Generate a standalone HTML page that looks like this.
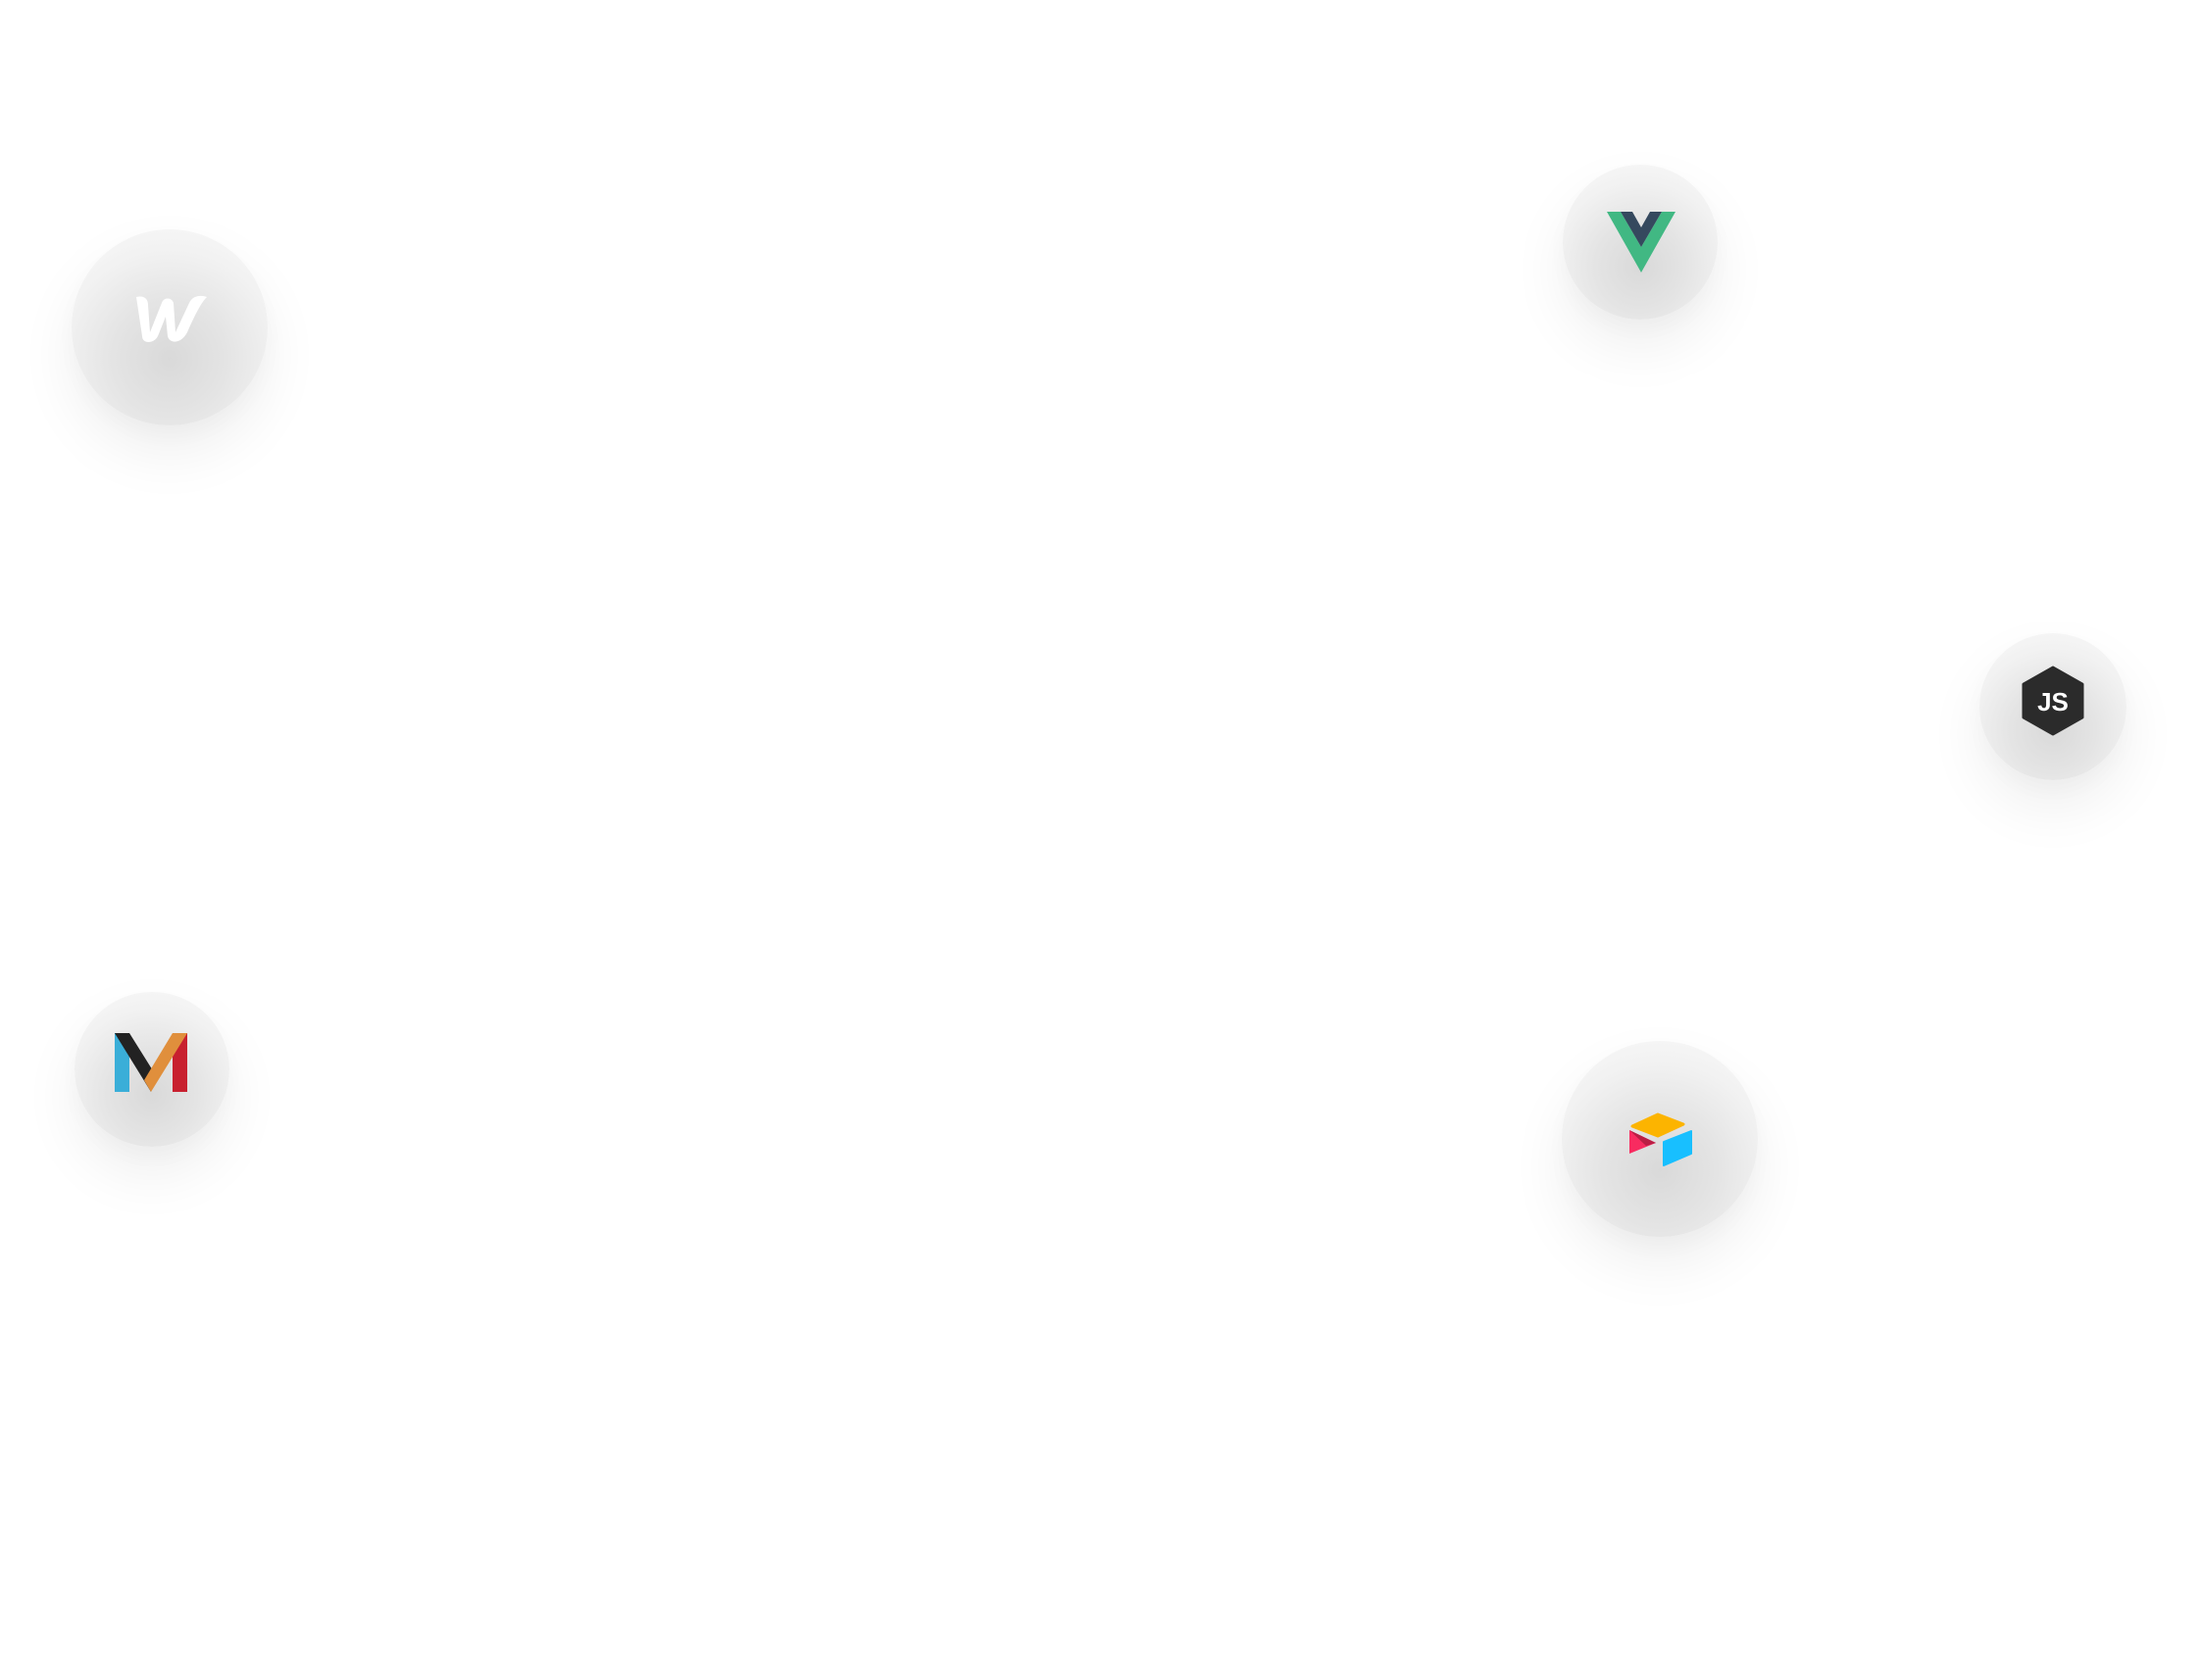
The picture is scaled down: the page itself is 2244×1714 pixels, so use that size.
<!DOCTYPE html>
<html><head><meta charset="utf-8"><style>
html,body{margin:0;padding:0;background:#fff;width:2244px;height:1714px;overflow:hidden;position:relative;font-family:"Liberation Sans",sans-serif}
.c{position:absolute;border-radius:50%;background:radial-gradient(circle at 50% 66%,#d9d9d9 0%,#e4e4e4 35%,#f1f1f1 65%,#fbfbfb 100%);box-shadow:0 28px 60px rgba(0,0,0,0.065),0 10px 22px rgba(0,0,0,0.025)}
.c svg{position:absolute}
</style></head><body>
<div class="c" style="left:73px;top:234px;width:200px;height:200px">
<svg style="left:66px;top:67px" width="72" height="50" viewBox="0 0 72 50"><path d="M0 2 C8 0 12 4 12 10 L14 38 L26 8 C28 2 36 2 38 8 L40 38 L54 8 C58 0 66 0 72 2 C66 8 60 20 52 38 C46 50 34 50 32 42 L30 22 L22 42 C18 50 6 50 6 42 Z" fill="#fff"/></svg>
</div>
<div class="c" style="left:1594px;top:168px;width:158px;height:158px">
<svg style="left:45px;top:48px" width="70" height="62" viewBox="0 0 70 62"><path d="M0 0 H14 L35 36 L56 0 H70 L35 62 Z" fill="#41b883"/><path d="M14 0 H26 L35 16 L44 0 H56 L35 36 Z" fill="#35495e"/></svg>
</div>
<div class="c" style="left:2019px;top:646px;width:150px;height:150px">
<svg style="left:42px;top:33px" width="66" height="72" viewBox="0 0 66 72"><path d="M33 2 L63 19 L63 53 L33 70 L3 53 L3 19 Z" fill="#2b2b2b" stroke="#2b2b2b" stroke-width="3" stroke-linejoin="round"/><text x="33" y="46" text-anchor="middle" font-family="Liberation Sans" font-size="26" fill="#fff" font-weight="bold">JS</text></svg>
</div>
<div class="c" style="left:76px;top:1012px;width:158px;height:158px">
<svg style="left:41px;top:42px" width="74" height="60" viewBox="0 0 74 60"><rect x="0" y="0" width="15" height="60" fill="#3aaed8"/><path d="M0 0 H15 L40 40 L37 60 Z" fill="#222"/><path d="M59 0 H74 V60 H59 Z" fill="#c8202f"/><path d="M59 0 L74 0 L37 60 L30 48 Z" fill="#e08f3c"/></svg>
</div>
<div class="c" style="left:1593px;top:1062px;width:200px;height:200px">
<svg style="left:68px;top:73px" width="66" height="56" viewBox="0 0 66 56"><path d="M4 14 L30 2 L56 12 L30 24 Z" fill="#fcb400" stroke="#fcb400" stroke-width="3" stroke-linejoin="round"/><path d="M36 30 L64 19 L64 42 L36 54 Z" fill="#18bfff" stroke="#18bfff" stroke-width="2" stroke-linejoin="round"/><path d="M1 18 L28 31 L1 42 Z" fill="#f82b60"/><path d="M1 18 L28 31 L18 34 Z" fill="#ba1e45"/></svg>
</div>
</body></html>
